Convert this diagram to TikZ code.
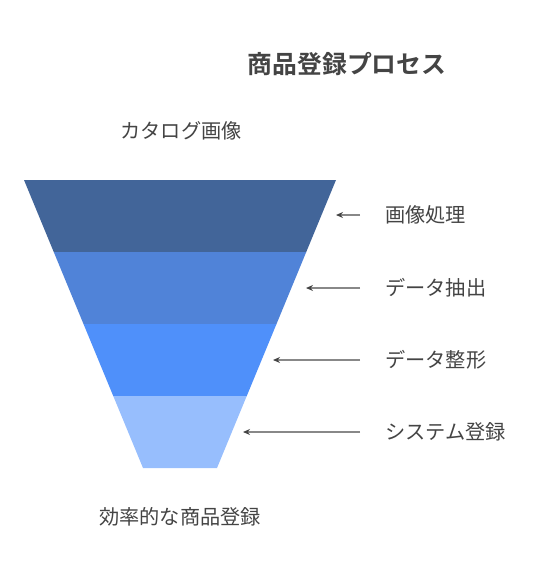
\documentclass[tikz,border=0pt]{standalone}
\usepackage{fontspec}
\newfontfamily\cjk{Noto Sans CJK JP}[BoldFont={Noto Sans CJK JP Bold}]
\usetikzlibrary{arrows.meta}
\definecolor{bandA}{RGB}{66,101,153}
\definecolor{bandB}{RGB}{80,131,216}
\definecolor{bandC}{RGB}{79,144,250}
\definecolor{bandD}{RGB}{151,190,253}
\definecolor{txt}{RGB}{68,68,68}
\definecolor{lineg}{RGB}{136,136,136}
\definecolor{headg}{RGB}{68,68,68}
\tikzset{
  band/.style={draw=none},
  lbl/.style={anchor=west,inner sep=0pt,text=txt,font=\cjk\fontsize{20.2}{22}\selectfont},
  captxt/.style={inner sep=0pt,text=txt,font=\cjk\fontsize{20.2}{22}\selectfont},
  ttl/.style={inner sep=0pt,text=txt,font=\cjk\bfseries\fontsize{24.8}{28}\selectfont},
  arr/.style={draw=lineg,line width=1.2pt,-{Stealth[length=7pt,width=6pt,color=headg]}}
}
\begin{document}
\begin{tikzpicture}[x=1pt,y=-1pt]
\useasboundingbox (0,0) rectangle (541,576);
% funnel bands
\fill[band,bandA] (24,180) -- (336,180) -- (306.25,252) -- (53.75,252) -- cycle;
\fill[band,bandB] (53.75,252) -- (306.25,252) -- (276.5,324) -- (83.5,324) -- cycle;
\fill[band,bandC] (83.5,324) -- (276.5,324) -- (246.75,396) -- (113.25,396) -- cycle;
\fill[band,bandD] (113.25,396) -- (246.75,396) -- (217,468) -- (143,468) -- cycle;
% texts
\node[ttl] (title) at (347,64) {商品登録プロセス};
\node[captxt] (top) at (181,131) {カタログ画像};
\node[captxt] (bottom) at (180,517) {効率的な商品登録};
\node[lbl] (l1) at (385,215) {画像処理};
\node[lbl] (l2) at (385,288) {データ抽出};
\node[lbl] (l3) at (385,360) {データ整形};
\node[lbl] (l4) at (385,432) {システム登録};
% arrows
\coordinate (s1) at (360,215); \coordinate (t1) at (336,215);
\coordinate (s2) at (360,288); \coordinate (t2) at (306,288);
\coordinate (s3) at (360,360); \coordinate (t3) at (273,360);
\coordinate (s4) at (360,432); \coordinate (t4) at (243,432);
\draw[arr] (s1) -- (t1);
\draw[arr] (s2) -- (t2);
\draw[arr] (s3) -- (t3);
\draw[arr] (s4) -- (t4);
\end{tikzpicture}
\end{document}
